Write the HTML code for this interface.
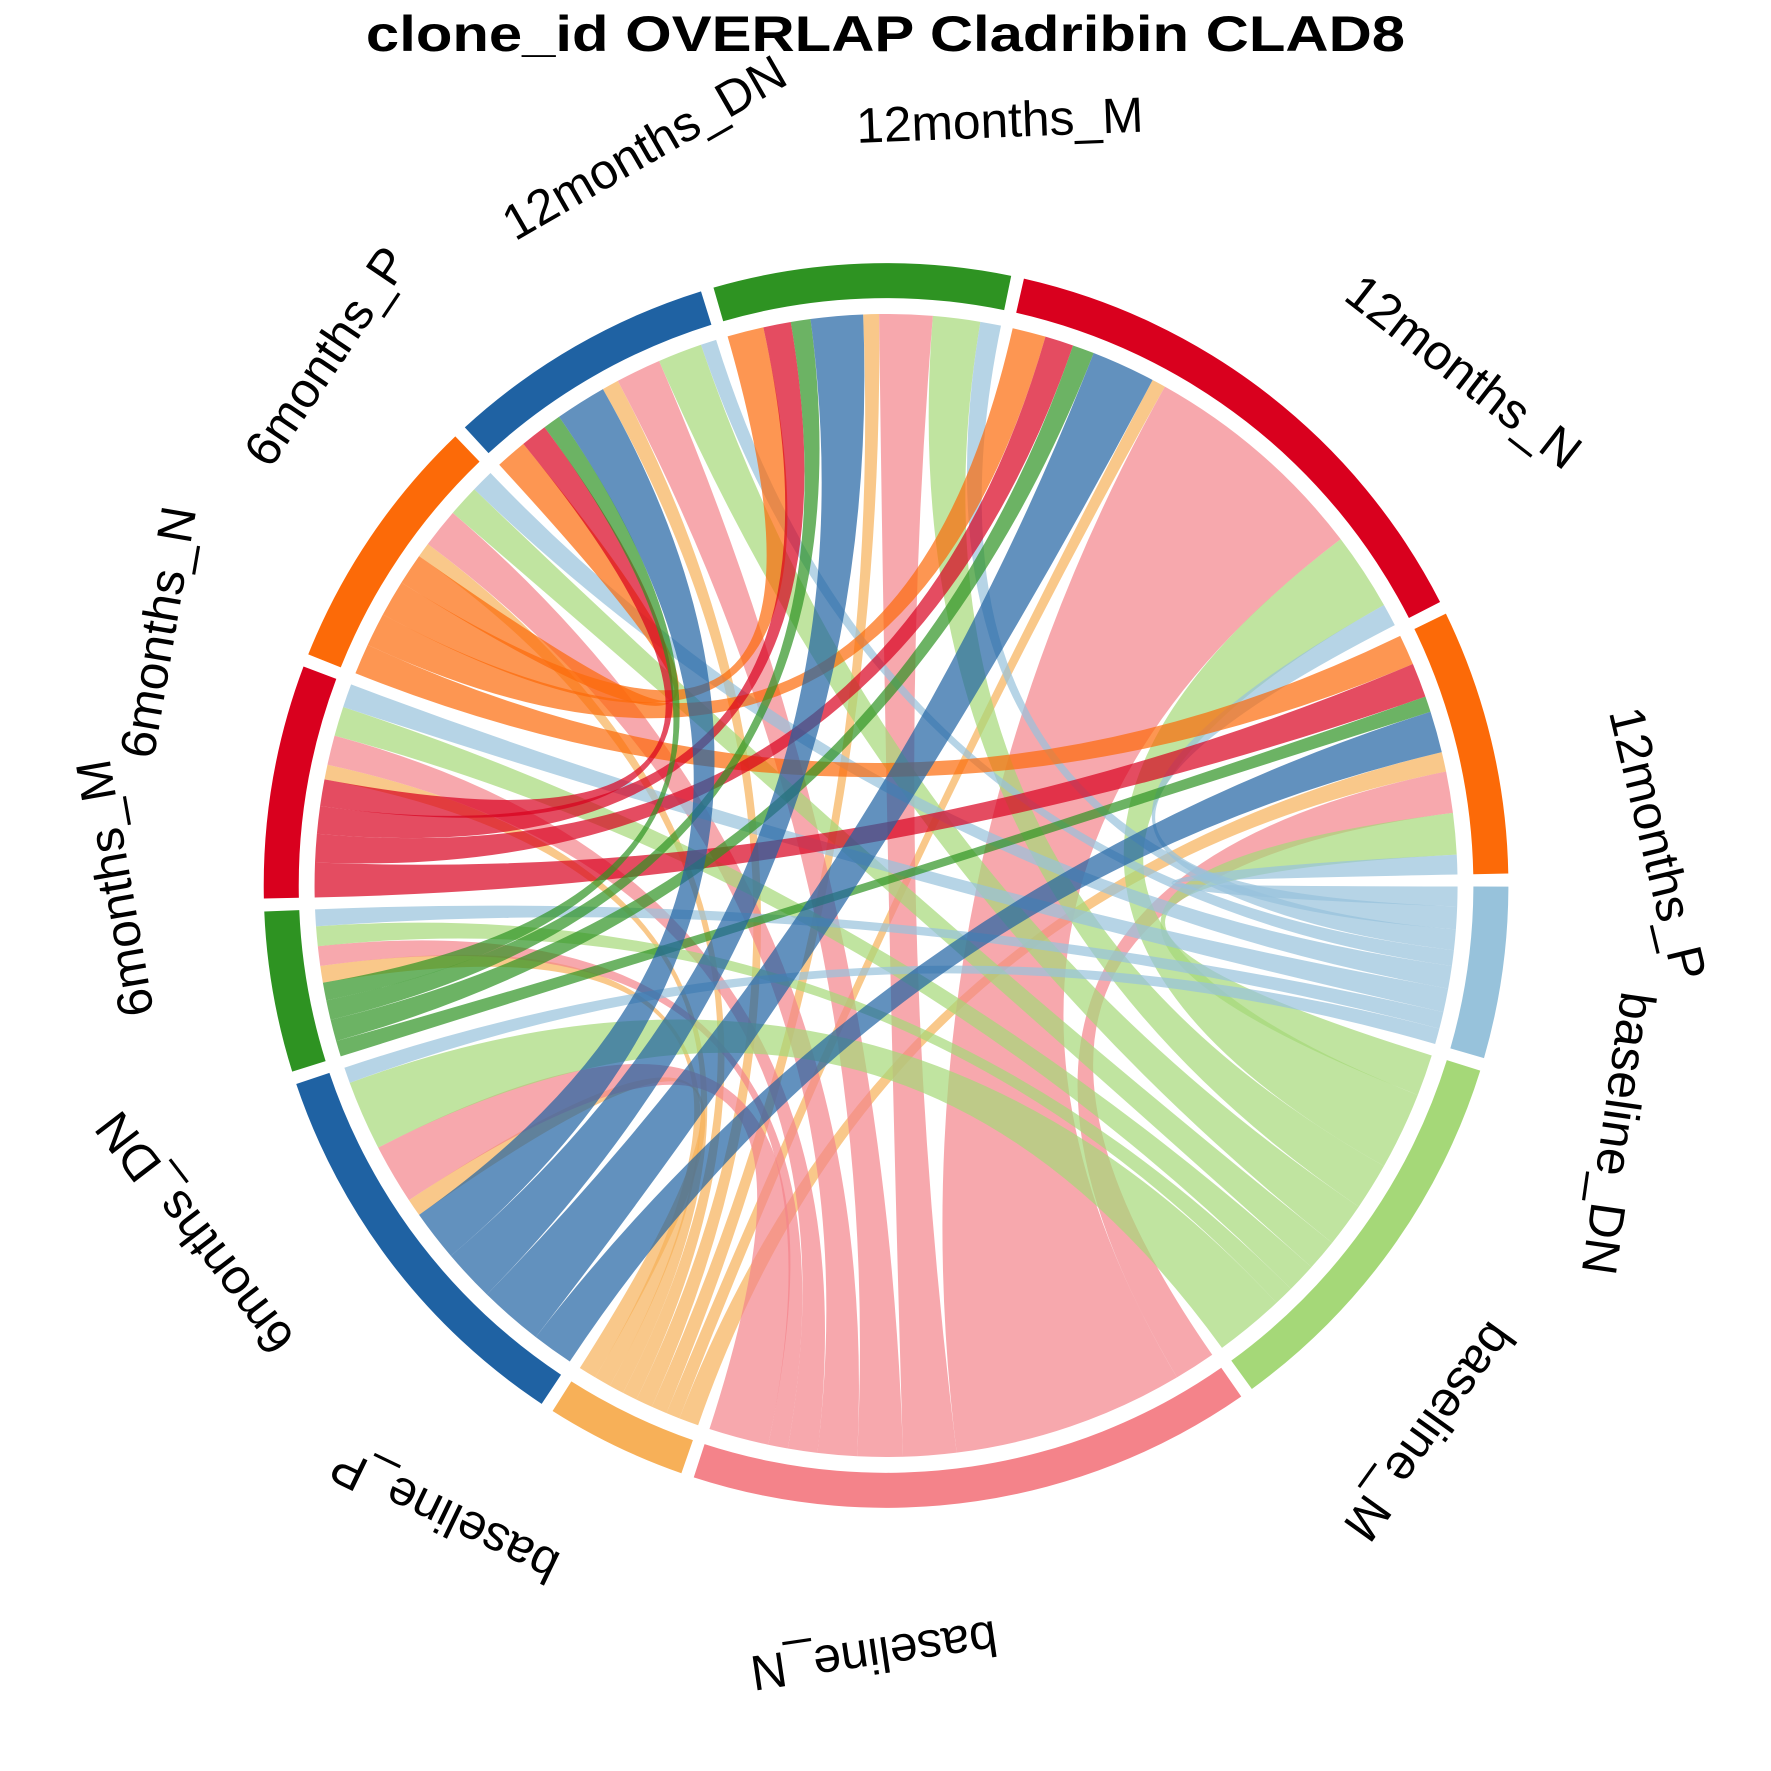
<!DOCTYPE html>
<html><head><meta charset="utf-8"><style>
html,body{margin:0;padding:0;background:#fff;}
svg{display:block;}
text{font-family:"Liberation Sans",Arial,sans-serif;}
</style></head>
<body>
<svg id="chart" width="1771" height="1771" viewBox="0 0 1568 1568" xmlns="http://www.w3.org/2000/svg">
<rect width="1568" height="1568" fill="#fff"/>
<text x="784" y="45" text-anchor="middle" font-weight="bold" font-size="44" textLength="920" lengthAdjust="spacingAndGlyphs">clone_id OVERLAP Cladribin CLAD8</text>
<g id="chords"></g>
<g id="ring"></g>
<g id="labels"></g>
</svg>
<script>
const sectorNames = ['12months_P','baseline_DN','baseline_M','baseline_N','baseline_P','6months_DN','6months_M','6months_N','6months_P','12months_DN','12months_M','12months_N'];
const sectorColors = ['#fc6a08','#97c2db','#a5d878','#f4838a','#f7b058','#1f62a3','#2e9322','#d9001e','#fc6a08','#1f62a3','#2e9322','#d9001e'];
const linkFrom = [
 '12months_P','12months_P','12months_P','12months_P','12months_P','12months_P','12months_P','12months_P',
 '12months_N','12months_N','12months_N','12months_N','12months_N','12months_N','12months_N','12months_N',
 '12months_M','12months_M','12months_M','12months_M','12months_M','12months_M','12months_M','12months_M',
 '12months_DN','12months_DN','12months_DN','12months_DN','12months_DN','12months_DN','12months_DN','12months_DN',
 '6months_P','6months_P','6months_P','6months_P',
 '6months_N','6months_N','6months_N','6months_N',
 '6months_M','6months_M','6months_M','6months_M',
 '6months_DN','6months_DN','6months_DN','6months_DN'];
const linkTo = [
 '6months_P','6months_N','6months_M','6months_DN','baseline_P','baseline_N','baseline_M','baseline_DN',
 '6months_P','6months_N','6months_M','6months_DN','baseline_P','baseline_N','baseline_M','baseline_DN',
 '6months_P','6months_N','6months_M','6months_DN','baseline_P','baseline_N','baseline_M','baseline_DN',
 '6months_P','6months_N','6months_M','6months_DN','baseline_P','baseline_N','baseline_M','baseline_DN',
 'baseline_P','baseline_N','baseline_M','baseline_DN',
 'baseline_P','baseline_N','baseline_M','baseline_DN',
 'baseline_P','baseline_N','baseline_M','baseline_DN',
 'baseline_P','baseline_N','baseline_M','baseline_DN'];
const linkValue = [
 3.1,3.5,1.6,4.2,2.0,4.2,4.2,2.0,
 3.4,2.9,2.2,6.5,1.4,23.5,7.9,2.3,
 3.7,2.8,2.0,5.3,1.6,5.4,4.8,2.1,
 3.2,2.7,1.8,5.2,1.7,4.6,4.5,1.6,
 1.5,4.0,3.2,2.3,
 1.5,3.0,3.0,2.4,
 1.7,2.0,2.0,1.7,
 1.8,6.1,7.1,1.6];
const order12 = ['6months_P','6months_N','6months_M','6months_DN','baseline_P','baseline_N','baseline_M','baseline_DN'];
const order6 = ['12months_P','12months_N','12months_M','12months_DN','baseline_P','baseline_N','baseline_M','baseline_DN'];
const orderB = ['12months_P','12months_N','12months_M','12months_DN','6months_P','6months_N','6months_M','6months_DN'];

const NS='http://www.w3.org/2000/svg';
const cx=784.5, cy=784, rOut=551, rIn=520, rC=506, startAngle=64.1, gap=1.2;
function pt(a,r){const t=a*Math.PI/180;return [cx+r*Math.sin(t), cy-r*Math.cos(t)];}
function f(p){return p[0].toFixed(2)+' '+p[1].toFixed(2);}
function orderFor(n){return n.startsWith('12')?order12:(n.startsWith('6')?order6:orderB);}

const totals={};
sectorNames.forEach(n=>totals[n]=0);
linkValue.forEach((v,i)=>{totals[linkFrom[i]]+=v;totals[linkTo[i]]+=v;});
const sumAll=sectorNames.reduce((s,n)=>s+totals[n],0);
const k=(360-gap*sectorNames.length)/sumAll;
const secStart={}, secEnd={};
let a=startAngle;
sectorNames.forEach(n=>{secStart[n]=a;secEnd[n]=a+totals[n]*k;a=secEnd[n]+gap;});

const ends={};
sectorNames.forEach(n=>{
  let cur=secStart[n];
  orderFor(n).forEach(p=>{
    linkValue.forEach((v,i)=>{
      if((linkFrom[i]===n&&linkTo[i]===p)||(linkTo[i]===n&&linkFrom[i]===p)){
        ends[n+'|'+p]=[cur,cur+v*k];cur+=v*k;
      }
    });
  });
});

const ring=document.getElementById('ring');
sectorNames.forEach((n,i)=>{
  const s=secStart[n], e=secEnd[n], lg=(e-s)>180?1:0;
  const d='M'+f(pt(s,rOut))+' A'+rOut+' '+rOut+' 0 '+lg+' 1 '+f(pt(e,rOut))+' L'+f(pt(e,rIn))+' A'+rIn+' '+rIn+' 0 '+lg+' 0 '+f(pt(s,rIn))+' Z';
  const el=document.createElementNS(NS,'path');
  el.setAttribute('d',d);el.setAttribute('fill',sectorColors[i]);
  
  
  ring.appendChild(el);
});

const chords=document.getElementById('chords');
const idx=linkValue.map((v,i)=>i);
idx.sort((x,y)=>{const bx=linkTo[x].startsWith('base')?0:1, by=linkTo[y].startsWith('base')?0:1;return bx-by||x-y;});
idx.forEach(i=>{
  const A=ends[linkFrom[i]+'|'+linkTo[i]], B=ends[linkTo[i]+'|'+linkFrom[i]];
  const d='M'+f(pt(A[0],rC))+' A'+rC+' '+rC+' 0 0 1 '+f(pt(A[1],rC))+' Q'+cx+' '+cy+' '+f(pt(B[0],rC))+' A'+rC+' '+rC+' 0 0 1 '+f(pt(B[1],rC))+' Q'+cx+' '+cy+' '+f(pt(A[0],rC))+' Z';
  const el=document.createElementNS(NS,'path');
  el.setAttribute('d',d);
  el.setAttribute('fill',sectorColors[sectorNames.indexOf(linkTo[i])]);
  el.setAttribute('fill-opacity','0.7');
  
  
  chords.appendChild(el);
});

const labels=document.getElementById('labels');
sectorNames.forEach(n=>{
  const m=(secStart[n]+secEnd[n])/2, p=pt(m,658);
  const t=document.createElementNS(NS,'text');
  t.setAttribute('x',p[0].toFixed(1));t.setAttribute('y',p[1].toFixed(1));
  t.setAttribute('font-size','44');
  t.setAttribute('transform','rotate('+m.toFixed(2)+' '+p[0].toFixed(1)+' '+p[1].toFixed(1)+')');
  t.textContent=n;
  
  
  labels.appendChild(t);
});
</script>
</body></html>
